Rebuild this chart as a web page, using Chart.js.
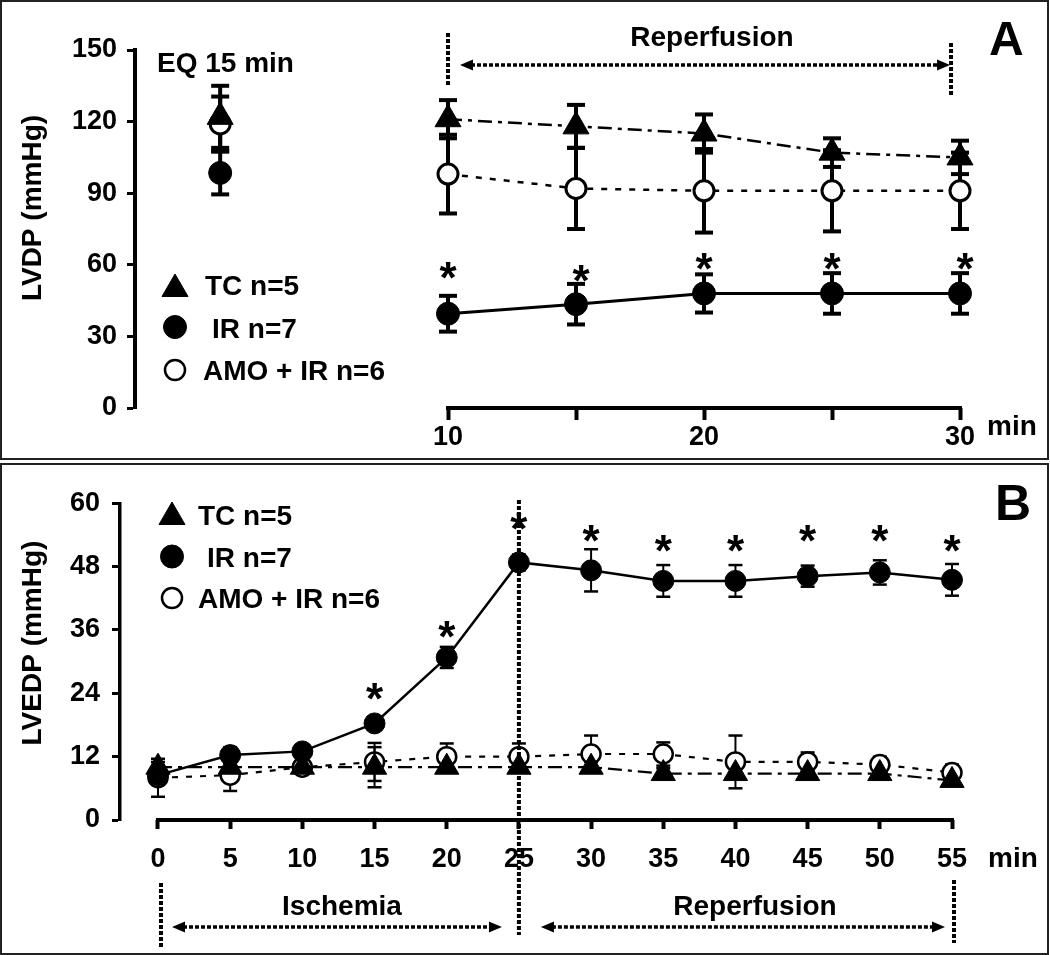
<!DOCTYPE html>
<html>
<head>
<meta charset="utf-8">
<title>LVDP / LVEDP</title>
<script src="https://cdn.jsdelivr.net/npm/chart.js@4.4.0/dist/chart.umd.min.js"></script>
<style>
    html, body { margin: 0; padding: 0; background: #fff; }
    #wrap { position: relative; width: 1050px; height: 955px; }
    .panel { position: absolute; left: 0; border: 2px solid #222; }
    canvas { position: absolute; left: 0; }
</style>
</head>
<body>
<div id="wrap">
    <div class="panel" style="top:0;width:1045px;height:456px"></div>
    <div class="panel" style="top:463px;width:1045px;height:488px"></div>
    <canvas id="chartA" width="1050" height="460" style="top:0"></canvas>
    <canvas id="chartB" width="1050" height="495" style="top:460px"></canvas>
</div>
<script>
        // ---- Panel A: LVDP, reperfusion ----
        const timesA = [10, 15, 20, 25, 30];
        const tcA = [121, 118, 115, 107, 105];
        const tcErrA = [8, 9, 8, 6, 7];
        const irA = [39.5, 43.5, 48, 48, 48];
        const irErrA = [7.5, 8.5, 8, 8.5, 8.5];
        const amoA = [98, 92, 91, 91, 91];
        const amoErrA = [16.5, 17, 17.5, 17, 16];
        const starXA = [10, 15.2, 20, 25, 30.2];
        const starA = [56, 55, 60, 60, 60];
        // EQ 15 min values: TC, IR, AMO + IR
        const eqX = 1.1;
        const eqValues = [122, 98.5, 119];
        const eqErrors = [13, 9, 11.5];
        const xTicksA = [10, 15, 20, 25, 30];
        const xLabelsA = [10, 20, 30];
        const yTicksA = [0, 30, 60, 90, 120, 150];
        const xRangeA = [-2.227, 30];
        const reperfA = [10, 29.65];

        // ---- Panel B: LVEDP, ischemia + reperfusion ----
        const timesB = [0, 5, 10, 15, 20, 25, 30, 35, 40, 45, 50, 55];
        const irB = [8.5, 12.3, 13, 18.3, 30.8, 48.8, 47.3, 45.3, 45.3, 46.2, 46.9, 45.5];
        const irErrB = [1, 1.5, 1, 1, 2, 1.5, 4, 3, 3, 2, 2.3, 3];
        const tcB = [10, 10, 10, 10, 10, 10, 10, 8.8, 8.8, 8.8, 8.8, 7.5];
        const tcErrB = [1, 1, 1, 3.8, 1, 1, 1, 1, 1, 1, 1, 1];
        const amoB = [8, 8.5, 10, 11, 12, 12, 12.5, 12.5, 11, 11, 10.5, 9];
        const amoErrB = [3.6, 3, 1, 3.6, 2.5, 2.5, 3.5, 2.2, 5, 1.8, 1.5, 1.5];
        const starXB = [15, 20, 25, 30, 35, 40, 45, 50, 55];
        const starB = [23.7, 35.5, 55.9, 53.7, 51.8, 51.8, 53.7, 53.7, 51.7];
        const xTicksB = [0, 5, 10, 15, 20, 25, 30, 35, 40, 45, 50, 55];
        const yTicksB = [0, 12, 24, 36, 48, 60];
        const xRangeB = [-2.632, 55];
        const ischemiaB = [0, 25];
        const reperfB = [25, 55];

        const FAMILY = '"Liberation Sans", Arial, sans-serif';
        const font = size => ({ family: FAMILY, size: size, weight: 'bold' });
        const pts = (xs, ys) => xs.map((x, i) => ({ x: x, y: ys[i] }));

        function line(ctx, x1, y1, x2, y2) {
            ctx.beginPath();
            ctx.moveTo(x1, y1);
            ctx.lineTo(x2, y2);
            ctx.stroke();
        }

        function dotted(ctx, x1, y1, x2, y2, w) {
            ctx.save();
            ctx.strokeStyle = '#000';
            ctx.lineWidth = w;
            ctx.setLineDash([4, 2]);
            line(ctx, x1, y1, x2, y2);
            ctx.restore();
        }

        function arrow(ctx, xl, xr, y) {
            dotted(ctx, xl + 11, y, xr - 11, y, 3.5);
            ctx.save();
            ctx.fillStyle = '#000';
            ctx.beginPath();
            ctx.moveTo(xl, y); ctx.lineTo(xl + 13, y - 5.5); ctx.lineTo(xl + 13, y + 5.5);
            ctx.closePath(); ctx.fill();
            ctx.beginPath();
            ctx.moveTo(xr, y); ctx.lineTo(xr - 13, y - 5.5); ctx.lineTo(xr - 13, y + 5.5);
            ctx.closePath(); ctx.fill();
            ctx.restore();
        }

        function marker(ctx, style, x, y, r, filled, bw) {
            ctx.save();
            ctx.beginPath();
            if (style === 'triangle') {
                for (let k = 0; k < 3; k++) {
                    const a = k * 2 * Math.PI / 3;
                    const px = x + Math.sin(a) * r, py = y - Math.cos(a) * r;
                    if (k) ctx.lineTo(px, py); else ctx.moveTo(px, py);
                }
                ctx.closePath();
            } else {
                ctx.arc(x, y, r, 0, 2 * Math.PI);
            }
            ctx.fillStyle = filled ? '#000' : '#fff';
            ctx.fill();
            ctx.lineWidth = bw;
            ctx.strokeStyle = '#000';
            ctx.stroke();
            ctx.restore();
        }

        function errorBars(chart, xs, ys, errs, stemW, capW, capH) {
            const { ctx, scales: { x, y } } = chart;
            ctx.save();
            ctx.strokeStyle = '#000';
            xs.forEach((t, i) => {
                const px = x.getPixelForValue(t);
                const top = y.getPixelForValue(ys[i] + errs[i]);
                const bot = y.getPixelForValue(ys[i] - errs[i]);
                ctx.lineWidth = stemW;
                line(ctx, px, top, px, bot);
                ctx.lineWidth = capH;
                line(ctx, px - capW / 2, top, px + capW / 2, top);
                line(ctx, px - capW / 2, bot, px + capW / 2, bot);
            });
            ctx.restore();
        }

        function stars(chart, xs, ys) {
            const { ctx, scales: { x, y } } = chart;
            ctx.save();
            ctx.fillStyle = '#000';
            ctx.font = 'bold 44px ' + FAMILY;
            ctx.textAlign = 'center';
            ctx.textBaseline = 'alphabetic';
            xs.forEach((t, i) => {
                ctx.fillText('*', x.getPixelForValue(t), y.getPixelForValue(ys[i]) + 19);
            });
            ctx.restore();
        }

        function yTitle(ctx, text, cx, cy) {
            ctx.save();
            ctx.fillStyle = '#000';
            ctx.font = 'bold 28px ' + FAMILY;
            ctx.translate(cx, cy);
            ctx.rotate(-Math.PI / 2);
            ctx.textAlign = 'center';
            ctx.textBaseline = 'middle';
            ctx.fillText(text, 0, 0);
            ctx.restore();
        }

        function text(ctx, str, x, y, size, align) {
            ctx.save();
            ctx.fillStyle = '#000';
            ctx.font = 'bold ' + size + 'px ' + FAMILY;
            ctx.textAlign = align || 'left';
            ctx.textBaseline = 'alphabetic';
            ctx.fillText(str, x, y);
            ctx.restore();
        }

        // legend rows: TC, IR, AMO + IR
        function legend(chart, mx, my, tx, ty) {
            const ctx = chart.ctx;
            const ds = chart.data.datasets;
            marker(ctx, 'triangle', mx, my[0], 15, true, 1);
            marker(ctx, 'circle', mx, my[1], 11.5, true, 1);
            marker(ctx, 'circle', mx, my[2], 10, false, 2.5);
            text(ctx, ds[1].label, tx[0], ty[0], 28);
            text(ctx, ds[0].label, tx[1], ty[1], 28);
            text(ctx, ds[2].label, tx[2], ty[2], 28);
        }

        const irStyle = (r, w) => ({ borderColor: '#000', borderWidth: w, pointStyle: 'circle', pointRadius: r, pointHoverRadius: r,
            pointBackgroundColor: '#000', pointBorderColor: '#000', pointBorderWidth: 1, clip: false });
        const tcStyle = (r, w) => ({ borderColor: '#000', borderWidth: w, borderDash: [14, 6, 4, 6], pointStyle: 'triangle', pointRadius: r, pointHoverRadius: r,
            pointBackgroundColor: '#000', pointBorderColor: '#000', pointBorderWidth: 1, clip: false });
        const amoStyle = (r, w, bw) => ({ borderColor: '#000', borderWidth: w, borderDash: [6, 8], pointStyle: 'circle', pointRadius: r, pointHoverRadius: r,
            pointBackgroundColor: '#fff', pointBorderColor: '#000', pointBorderWidth: bw, clip: false });

        // Panel A plugin
        const panelA = {
            id: 'panelA',
            beforeDatasetsDraw(chart) {
                const { ctx, scales: { x, y } } = chart;
                ctx.save();
                ctx.strokeStyle = '#000';
                ctx.lineWidth = 4;
                line(ctx, x.getPixelForValue(xTicksA[0]) - 2, y.getPixelForValue(0), x.getPixelForValue(xTicksA[xTicksA.length - 1]) + 2, y.getPixelForValue(0));
                ctx.restore();
                errorBars(chart, timesA, amoA, amoErrA, 4, 18, 4);
                errorBars(chart, timesA, tcA, tcErrA, 4, 18, 4);
                errorBars(chart, timesA, irA, irErrA, 4, 18, 4);
                errorBars(chart, [eqX, eqX, eqX], eqValues, eqErrors, 4, 18, 4);
            },
            afterDraw(chart) {
                const { ctx, scales: { x } } = chart;
                yTitle(ctx, 'LVDP (mmHg)', 33, 208);
                text(ctx, 'EQ 15 min', 157, 72, 28);
                text(ctx, 'Reperfusion', 712, 46, 28, 'center');
                text(ctx, 'min', 987, 435, 28);
                text(ctx, 'A', 989, 55, 48);
                const xa = x.getPixelForValue(reperfA[0]);
                const xb = x.getPixelForValue(reperfA[1]);
                dotted(ctx, xa, 33, xa, 87, 4);
                dotted(ctx, xb, 43, xb, 97, 4);
                arrow(ctx, xa + 12, xb - 1, 65);
                stars(chart, starXA, starA);
                legend(chart, 175, [289, 327, 370], [205, 212, 203], [295, 338, 380]);
            }
        };

        // Panel B plugin
        const panelB = {
            id: 'panelB',
            beforeDatasetsDraw(chart) {
                const { ctx, scales: { x, y } } = chart;
                ctx.save();
                ctx.strokeStyle = '#000';
                ctx.lineWidth = 4;
                line(ctx, x.getPixelForValue(xTicksB[0]) - 2, y.getPixelForValue(0), x.getPixelForValue(xTicksB[xTicksB.length - 1]) + 2, y.getPixelForValue(0));
                ctx.restore();
                errorBars(chart, timesB, amoB, amoErrB, 2, 14, 2.5);
                errorBars(chart, timesB, tcB, tcErrB, 2, 14, 2.5);
                errorBars(chart, timesB, irB, irErrB, 2, 14, 2.5);
            },
            afterDraw(chart) {
                const { ctx, scales: { x } } = chart;
                yTitle(ctx, 'LVEDP (mmHg)', 33, 183);
                text(ctx, 'min', 988, 407, 28);
                text(ctx, 'B', 995, 60, 50);
                text(ctx, 'Ischemia', 342, 455, 28, 'center');
                text(ctx, 'Reperfusion', 755, 455, 28, 'center');
                const x0 = x.getPixelForValue(ischemiaB[0]);
                const x25 = x.getPixelForValue(ischemiaB[1]);
                const x55 = x.getPixelForValue(reperfB[1]);
                dotted(ctx, x25, 40, x25, 475, 4);
                dotted(ctx, x0 + 3, 423, x0 + 3, 487, 4);
                dotted(ctx, x55 + 2, 420, x55 + 2, 483, 4);
                arrow(ctx, x0 + 14, x25 - 17, 467);
                arrow(ctx, x25 + 22, x55 - 7, 467);
                stars(chart, starXB, starB);
                legend(chart, 172, [57, 96.5, 138], [198, 207, 198], [65, 107, 148]);
            }
        };

        // LVDP chart (A)
        new Chart(document.getElementById('chartA'), {
            type: 'line',
            data: {
                datasets: [
                    Object.assign({ label: 'IR n=7', data: pts(timesA, irA) }, irStyle(11.5, 3)),
                    Object.assign({ label: 'TC n=5', data: pts(timesA, tcA) }, tcStyle(15, 2.5)),
                    Object.assign({ label: 'AMO + IR n=6', data: pts(timesA, amoA) }, amoStyle(10, 2.5, 3)),
                    Object.assign({ data: [{ x: eqX, y: eqValues[1] }], showLine: false }, irStyle(11.5, 3)),
                    Object.assign({ data: [{ x: eqX, y: eqValues[0] }], showLine: false }, tcStyle(15, 2.5)),
                    Object.assign({ data: [{ x: eqX, y: eqValues[2] }], showLine: false }, amoStyle(10, 2.5, 3))
                ]
            },
            options: {
                responsive: false,
                animation: false,
                layout: { padding: { top: 50, right: 90, bottom: 0, left: 0 } },
                plugins: { legend: { display: false }, tooltip: { enabled: false } },
                scales: {
                    x: {
                        type: 'linear',
                        min: xRangeA[0],
                        max: xRangeA[1],
                        afterBuildTicks: s => { s.ticks = xTicksA.map(v => ({ value: v })); },
                        afterFit: s => { s.height = 52; },
                        border: { display: false },
                        grid: { drawOnChartArea: false, drawTicks: true, tickLength: 12, tickWidth: 4, tickColor: '#000' },
                        ticks: {
                            color: '#000', font: font(27), padding: 1, autoSkip: false, maxRotation: 0,
                            callback: v => xLabelsA.includes(v) ? String(v) : ''
                        }
                    },
                    y: {
                        min: yTicksA[0],
                        max: yTicksA[yTicksA.length - 1],
                        afterBuildTicks: s => { s.ticks = yTicksA.map(v => ({ value: v })); },
                        afterFit: s => { s.width = 135; },
                        border: { display: true, color: '#000', width: 4 },
                        grid: { drawOnChartArea: false, drawTicks: true, tickLength: 8, tickWidth: 3, tickColor: '#000' },
                        ticks: { color: '#000', font: font(27), padding: 10 }
                    }
                }
            },
            plugins: [panelA]
        });

        // LVEDP chart (B)
        new Chart(document.getElementById('chartB'), {
            type: 'line',
            data: {
                datasets: [
                    Object.assign({ label: 'IR n=7', data: pts(timesB, irB) }, irStyle(10.5, 2.5)),
                    Object.assign({ label: 'TC n=5', data: pts(timesB, tcB) }, tcStyle(14, 2.2)),
                    Object.assign({ label: 'AMO + IR n=6', data: pts(timesB, amoB) }, amoStyle(9.5, 2.2, 2.5))
                ]
            },
            options: {
                responsive: false,
                animation: false,
                layout: { padding: { top: 43.3, right: 98, bottom: 0, left: 0 } },
                plugins: { legend: { display: false }, tooltip: { enabled: false } },
                scales: {
                    x: {
                        type: 'linear',
                        min: xRangeB[0],
                        max: xRangeB[1],
                        afterBuildTicks: s => { s.ticks = xTicksB.map(v => ({ value: v })); },
                        afterFit: s => { s.height = 135; },
                        border: { display: false },
                        grid: { drawOnChartArea: false, drawTicks: true, tickLength: 9, tickWidth: 4, tickColor: '#000' },
                        ticks: { color: '#000', font: font(27), padding: 14, autoSkip: false, maxRotation: 0 }
                    },
                    y: {
                        min: yTicksB[0],
                        max: yTicksB[yTicksB.length - 1],
                        afterBuildTicks: s => { s.ticks = yTicksB.map(v => ({ value: v })); },
                        afterFit: s => { s.width = 120; },
                        border: { display: true, color: '#000', width: 3.5 },
                        grid: { drawOnChartArea: false, drawTicks: true, tickLength: 8, tickWidth: 3, tickColor: '#000' },
                        ticks: { color: '#000', font: font(27), padding: 12 }
                    }
                }
            },
            plugins: [panelB]
        });
</script>
</body>
</html>
